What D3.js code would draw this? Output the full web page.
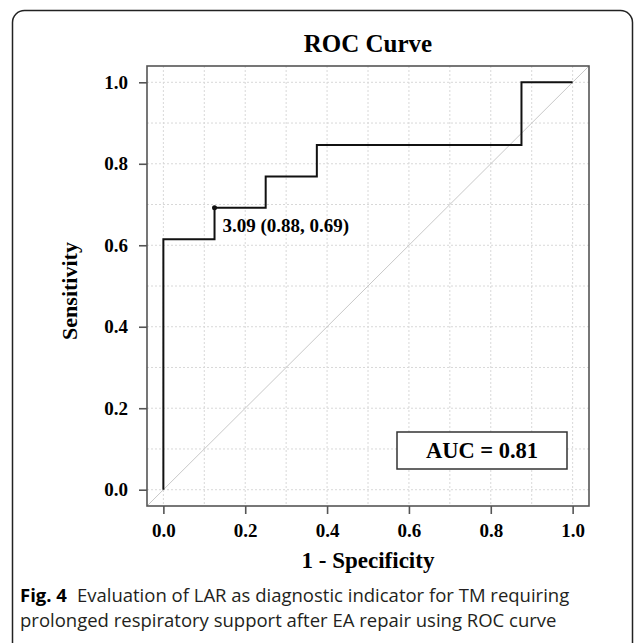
<!DOCTYPE html>
<html lang="en">
<head>
  <meta charset="UTF-8">
  <title>ROC Curve</title>
  <style>
    body {
      margin: 0;
      padding: 0;
      background-color: white;
    }
    svg {
      display: block;
    }
    .serif {
      font-family: "Liberation Serif", "Times New Roman", serif;
      font-weight: bold;
      fill: black;
    }
    .caption {
      font-family: "Open Sans", "Noto Sans", sans-serif;
      fill: #231f20;
    }
  </style>
  <script src="https://d3js.org/d3.v7.min.js"></script>
</head>
<body>
  <div id="chart"></div>
  <script>
    // ROC points (1 - specificity, sensitivity), steps drawn between them
    const fpr = [0, 0, 0.125, 0.25, 0.375, 0.875, 1];
    const tpr = [0, 0.615, 0.692, 0.769, 0.846, 1, 1];
    const tickValues = [0, 0.2, 0.4, 0.6, 0.8, 1.0];
    const gridValues = [0, 0.1, 0.2, 0.3, 0.4, 0.5, 0.6, 0.7, 0.8, 0.9, 1.0];
    const cutoff = { fpr: 0.125, tpr: 0.692, label: "3.09 (0.88, 0.69)" };
    const aucText = "AUC = 0.81";
    const captionLines = [
      "Evaluation of LAR as diagnostic indicator for TM requiring",
      "prolonged respiratory support after EA repair using ROC curve"
    ];

    const width = 637, height = 643;
    const plot = { left: 147, right: 589, top: 66, bottom: 506 };

    const svg = d3.select("#chart")
      .append("svg")
      .attr("width", width)
      .attr("height", height);

    // outer frame, bottom runs off the picture
    svg.append("rect")
      .attr("x", 12.5)
      .attr("y", 10.5)
      .attr("width", 620)
      .attr("height", 700)
      .attr("rx", 12)
      .attr("fill", "none")
      .attr("stroke", "#222")
      .attr("stroke-width", 1.5);

    const x = d3.scaleLinear().domain([-0.04, 1.04]).range([plot.left, plot.right]);
    const y = d3.scaleLinear().domain([-0.04, 1.04]).range([plot.bottom, plot.top]);

    // dotted grid
    const grid = svg.append("g")
      .attr("stroke", "#d8d8d8")
      .attr("stroke-width", 1)
      .attr("stroke-dasharray", "2,2");

    grid.selectAll(".vgrid")
      .data(gridValues)
      .enter()
      .append("line")
      .attr("x1", d => x(d))
      .attr("x2", d => x(d))
      .attr("y1", plot.top)
      .attr("y2", plot.bottom);

    grid.selectAll(".hgrid")
      .data(gridValues)
      .enter()
      .append("line")
      .attr("x1", plot.left)
      .attr("x2", plot.right)
      .attr("y1", d => y(d))
      .attr("y2", d => y(d));

    // chance diagonal across the whole panel
    svg.append("line")
      .attr("x1", x(-0.04))
      .attr("y1", y(-0.04))
      .attr("x2", x(1.04))
      .attr("y2", y(1.04))
      .attr("stroke", "#c8c8c8")
      .attr("stroke-width", 1);

    // ROC step line
    const rocData = fpr.map((d, i) => ({ fpr: d, tpr: tpr[i] }));
    const line = d3.line()
      .x(d => x(d.fpr))
      .y(d => y(d.tpr))
      .curve(d3.curveStepAfter);

    svg.append("path")
      .datum(rocData)
      .attr("d", line)
      .attr("fill", "none")
      .attr("stroke", "#111")
      .attr("stroke-width", 2);

    // cut-off point and label
    svg.append("circle")
      .attr("cx", x(cutoff.fpr))
      .attr("cy", y(cutoff.tpr))
      .attr("r", 2.5)
      .attr("fill", "#111");

    svg.append("text")
      .attr("class", "serif")
      .attr("x", x(cutoff.fpr) + 8)
      .attr("y", y(cutoff.tpr) + 24)
      .attr("font-size", 19)
      .text(cutoff.label);

    // plot box
    svg.append("rect")
      .attr("x", plot.left)
      .attr("y", plot.top)
      .attr("width", plot.right - plot.left)
      .attr("height", plot.bottom - plot.top)
      .attr("fill", "none")
      .attr("stroke", "#555")
      .attr("stroke-width", 1.6);

    // axes
    const xAxis = svg.append("g")
      .attr("transform", `translate(0, ${plot.bottom})`)
      .call(d3.axisBottom(x).tickValues(tickValues).tickFormat(d3.format(".1f"))
        .tickSize(8).tickSizeOuter(0).tickPadding(10));

    const yAxis = svg.append("g")
      .attr("transform", `translate(${plot.left}, 0)`)
      .call(d3.axisLeft(y).tickValues(tickValues).tickFormat(d3.format(".1f"))
        .tickSize(8).tickSizeOuter(0).tickPadding(11));

    [xAxis, yAxis].forEach(g => {
      g.select(".domain").remove();
      g.selectAll(".tick line").attr("stroke", "#555").attr("stroke-width", 1.6);
      g.selectAll(".tick text")
        .attr("class", "serif")
        .attr("font-size", 19)
        .attr("fill", "black");
    });

    // AUC box
    svg.append("rect")
      .attr("x", 397)
      .attr("y", 432)
      .attr("width", 170)
      .attr("height", 37)
      .attr("fill", "white")
      .attr("stroke", "#333")
      .attr("stroke-width", 1.5);

    svg.append("text")
      .attr("class", "serif")
      .attr("x", 482)
      .attr("y", 458)
      .attr("text-anchor", "middle")
      .attr("font-size", 22.5)
      .text(aucText);

    // titles
    svg.append("text")
      .attr("class", "serif")
      .attr("x", (plot.left + plot.right) / 2)
      .attr("y", 52)
      .attr("text-anchor", "middle")
      .attr("font-size", 25)
      .text("ROC Curve");

    svg.append("text")
      .attr("class", "serif")
      .attr("x", (plot.left + plot.right) / 2)
      .attr("y", 568)
      .attr("text-anchor", "middle")
      .attr("font-size", 23)
      .text("1 - Specificity");

    svg.append("text")
      .attr("class", "serif")
      .attr("transform", "translate(77, 291) rotate(-90)")
      .attr("text-anchor", "middle")
      .attr("font-size", 22)
      .text("Sensitivity");

    // caption
    const cap = svg.append("text")
      .attr("class", "caption")
      .attr("font-size", 18.5);

    cap.append("tspan")
      .attr("x", 20)
      .attr("y", 602)
      .attr("font-weight", "bold")
      .attr("fill", "black")
      .text("Fig. 4");

    cap.append("tspan")
      .attr("dx", 10)
      .text(captionLines[0]);

    cap.append("tspan")
      .attr("x", 20)
      .attr("y", 627)
      .text(captionLines[1]);
  </script>
</body>
</html>
